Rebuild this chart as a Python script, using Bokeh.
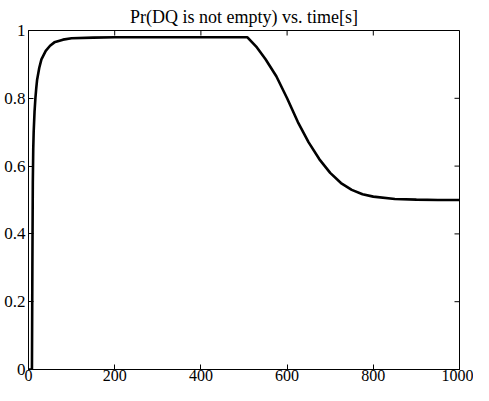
import math
from bokeh.plotting import figure
from bokeh.models import Range1d, FixedTicker
from bokeh.embed import file_html
from bokeh.resources import INLINE

title_text = "Pr(DQ is not empty) vs. time[s]"
x_ticks = [0, 200, 400, 600, 800, 1000]
y_ticks = [0, 0.2, 0.4, 0.6, 0.8, 1]
y_tick_labels = {0: "0", 0.2: "0.2", 0.4: "0.4", 0.6: "0.6", 0.8: "0.8", 1: "1"}

time_s = [0, 8, 9, 10, 11, 12, 14, 16, 18, 20, 25, 30, 40, 50, 60, 80, 100, 150, 200,
          300, 400, 508, 530, 550, 575, 600, 625, 650, 675, 700, 725, 750, 775,
          800, 850, 900, 950, 1000]
pr_not_empty = [0, 0, 0.3, 0.55, 0.65, 0.7, 0.76, 0.8, 0.83, 0.855, 0.89, 0.915, 0.94,
                0.955, 0.965, 0.973, 0.977, 0.979, 0.98, 0.98, 0.98, 0.98, 0.95,
                0.915, 0.865, 0.80, 0.73, 0.67, 0.62, 0.58, 0.55, 0.53, 0.517,
                0.51, 0.503, 0.501, 0.5, 0.5]

X_MIN, X_MAX = 0, 1000
Y_MIN, Y_MAX = 0, 1
FONT = "Liberation Serif"

p = figure(width=473, height=385, output_backend="svg", toolbar_location=None,
           x_range=Range1d(X_MIN, X_MAX), y_range=Range1d(Y_MIN, Y_MAX),
           min_border_left=28, min_border_right=14, min_border_top=28, min_border_bottom=16)

p.title.text = title_text
p.title.align = "center"
p.title.text_font = FONT
p.title.text_font_size = "18px"
p.title.text_font_style = "normal"
p.title.text_color = "black"
p.title.standoff = 8
p.title.offset = 0

p.grid.visible = False
p.outline_line_color = "black"
p.outline_line_width = 1
p.outline_line_alpha = 1

p.line(time_s, pr_not_empty, line_color="black", line_width=2.6)

for ax in (p.xaxis[0], p.yaxis[0]):
    ax.axis_line_color = "black"
    ax.major_tick_in = 5
    ax.major_tick_out = 0
    ax.minor_tick_in = 0
    ax.minor_tick_out = 0
    ax.major_tick_line_color = "black"
    ax.major_label_text_font = FONT
    ax.major_label_text_color = "black"

p.xaxis.ticker = FixedTicker(ticks=x_ticks)
p.yaxis.ticker = FixedTicker(ticks=y_ticks)
p.yaxis.major_label_overrides = y_tick_labels
p.xaxis[0].major_label_text_font_size = "16px"
p.yaxis[0].major_label_text_font_size = "17px"
p.xaxis[0].major_label_standoff = 0
p.yaxis[0].major_label_standoff = 3

# mirrored inward ticks on the top and right edges of the box
p.ray(x=x_ticks, y=[Y_MAX] * len(x_ticks), length=5, length_units="screen",
      angle=-math.pi / 2, line_color="black", line_width=1)
p.ray(x=[X_MAX] * len(y_ticks), y=y_ticks, length=5, length_units="screen",
      angle=math.pi, line_color="black", line_width=1)

open("out.html", "w").write(file_html(p, INLINE))
